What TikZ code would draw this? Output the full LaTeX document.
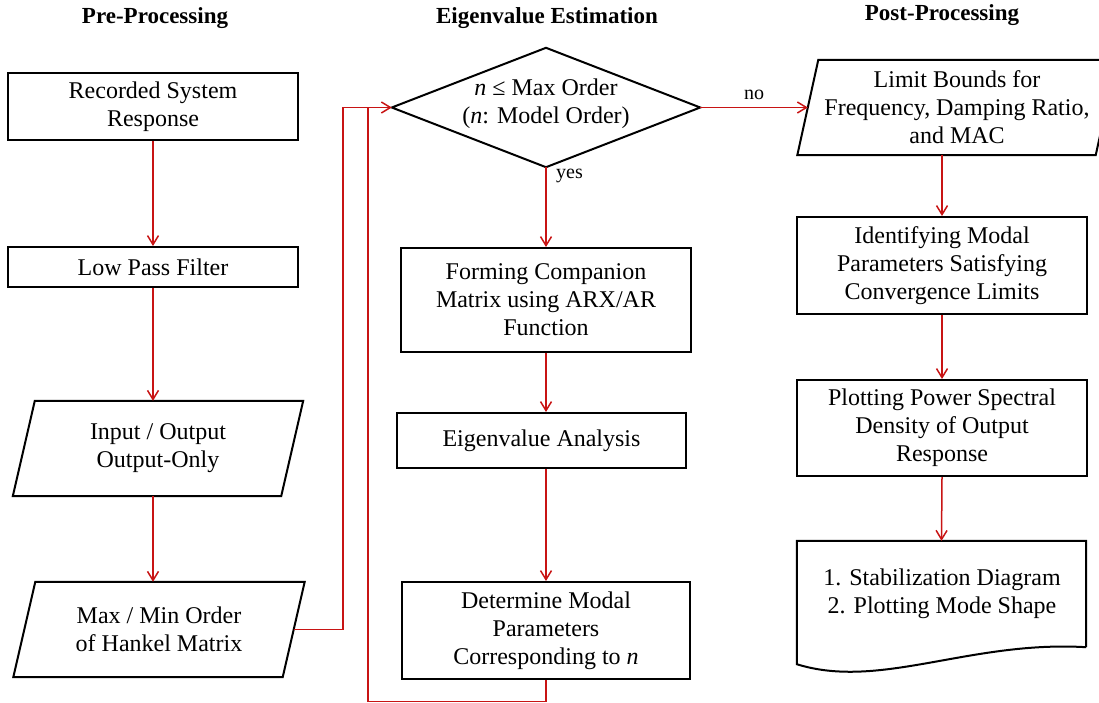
\documentclass[tikz,border=0pt]{standalone}
\usepackage{fontspec}
\setmainfont{Liberation Serif}
\usetikzlibrary{arrows.meta}
\definecolor{flowred}{RGB}{200,20,20}
\begin{document}
\begin{tikzpicture}[x=1pt,y=-1pt,
  every node/.style={font=\fontsize{24}{28}\selectfont, align=center, inner sep=0pt},
  title/.style={font=\fontsize{23}{28}\selectfont\bfseries},
  lbl/.style={font=\fontsize{20}{24}\selectfont},
  procbox/.style={draw=black, line width=2pt, rectangle, minimum width=#1},
  procbox/.default=290,
  slantbox/.style={rectangle, minimum width=#1},
  flow/.style={draw=flowred, line width=1.5pt},
  arr/.style={flow, -{Straight Barb[length=9pt,width=11pt]}},
  outline/.style={draw=black, line width=2pt, line join=miter}
]
\useasboundingbox (0,0) rectangle (1099,703);

% column headings
\node[title] (t1) at (155,18) {Pre-Processing};
\node[title] (t2) at (547,18) {Eigenvalue Estimation};
\node[title] (t3) at (942,15) {Post-Processing};

% pre-processing column
\node[procbox, minimum height=67] (rec) at (153,106.5) {Recorded System\\Response};
\node[procbox, minimum height=40] (lpf) at (153,267) {Low Pass Filter};
\node[slantbox=268, minimum height=95] (io) at (158,448.5) {Input / Output\\Output-Only};
\node[slantbox=269, minimum height=95] (hank) at (159,629.5) {Max / Min Order\\of Hankel Matrix};

% eigenvalue estimation column
\node[rectangle, minimum width=308, minimum height=119] (dec) at (546,107.5) {};
\node (dectext) at (546,104) {\textit{n} ≤ Max Order\\(\textit{n}: Model Order)};
\node[procbox, minimum height=104] (comp) at (546,300) {Forming Companion\\Matrix using ARX/AR\\Function};
\node[procbox=289, minimum height=55] (eig) at (541.5,440.5) {Eigenvalue Analysis};
\node[procbox=288, minimum height=97] (det) at (546,630.5) {Determine Modal\\Parameters\\Corresponding to \textit{n}};

% post-processing column
\node[slantbox=298, minimum height=95] (lim) at (957,107.5) {Limit Bounds for\\Frequency, Damping Ratio,\\and MAC};
\node[procbox, minimum height=97] (ident) at (942,265.5) {Identifying Modal\\Parameters Satisfying\\Convergence Limits};
\node[procbox, minimum height=96] (psd) at (942,428) {Plotting Power Spectral\\Density of Output\\Response};
\node[rectangle, minimum width=289, minimum height=106] (doc) at (941.5,594) {};
\node (doctext) at (942,594) {1. Stabilization Diagram\\2. Plotting Mode Shape};

% slanted (data) shapes
\foreach \n/\s in {io/11, hank/11, lim/10.5}{
  \draw[outline] ([xshift=\s]\n.north west) -- ([xshift=\s]\n.north east)
    -- ([xshift=-\s]\n.south east) -- ([xshift=-\s]\n.south west) -- cycle;
}
% decision diamond
\draw[outline] (dec.west) -- (dec.north) -- (dec.east) -- (dec.south) -- cycle;
% document shape with wavy lower edge
\draw[outline] (doc.south east) -- (doc.north east) -- (doc.north west)
  -- ([yshift=-17]doc.south west)
  .. controls ([xshift=83,yshift=-43]doc.south west) and ([xshift=173,yshift=7]doc.south west)
  .. (doc.south east);

% loop junctions
\coordinate (j1) at (343,107.5);
\coordinate (j2) at (368,107.5);
\coordinate (j3) at (368,701.5);

% connectors
\draw[arr] (rec.south) -- (lpf.north);
\draw[arr] (lpf.south) -- (lpf.south |- io.north);
\draw[arr] (io.south -| lpf.south) -- (hank.north -| lpf.south);
\draw[arr] (hank.east) -| (j1) -- (dec.west);
\draw[flow] (det.south) |- (j3) -- (j2);
\draw[arr] (dec.east) -- node[lbl, above=7pt] (no) {no} (dec.east -| lim.west);
\draw[arr] (dec.south) -- (comp.north);
\node[lbl, anchor=west] (yes) at ([xshift=10,yshift=-9]dec.south) {yes};
\draw[arr] (comp.south) -- (comp.south |- eig.north);
\draw[arr] (eig.south -| comp.south) -- (det.north);
\draw[arr] (ident.north |- lim.south) -- (ident.north);
\draw[arr] (ident.south) -- (psd.north);
\draw[arr] (psd.south) -- (doc.north);
\end{tikzpicture}
\end{document}
